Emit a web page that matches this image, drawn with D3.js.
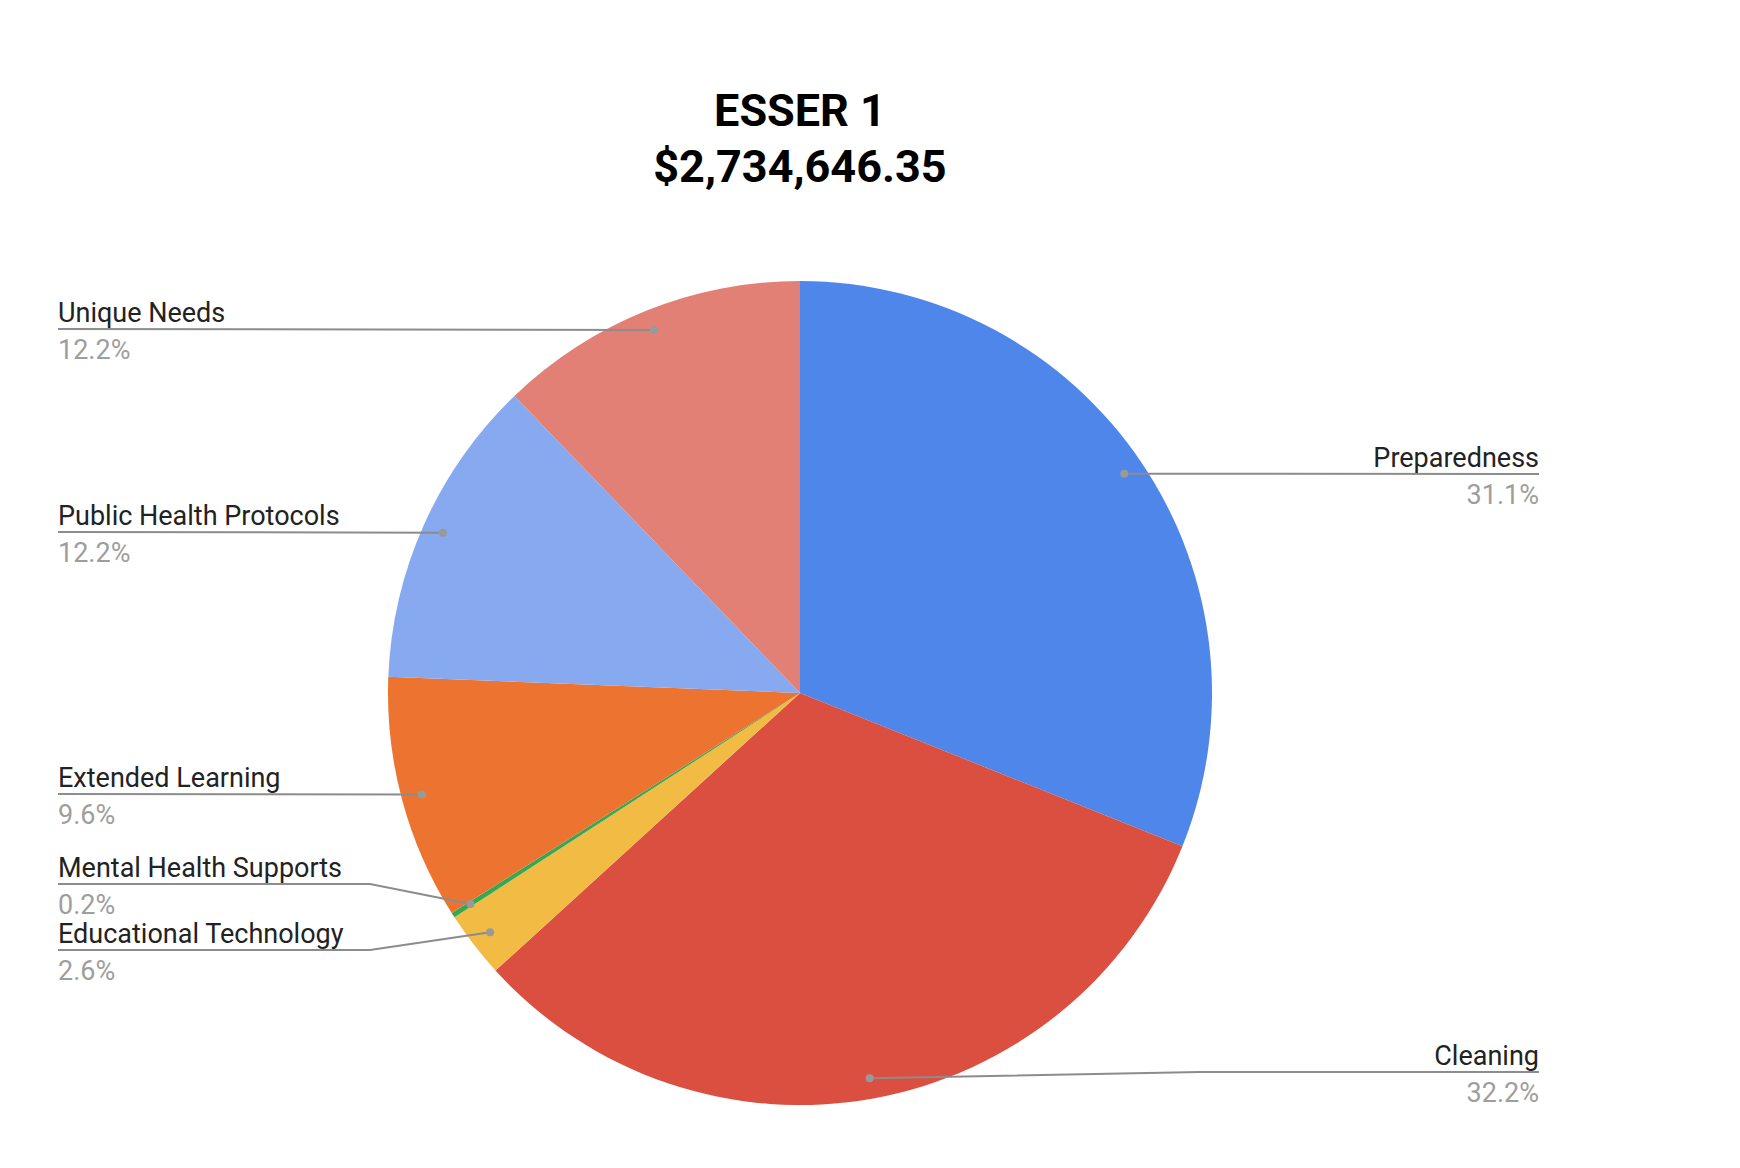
<!DOCTYPE html>
<html><head><meta charset="utf-8">
<script src="https://cdn.jsdelivr.net/npm/d3@7"></script>
<style>body{margin:0;background:#fff}text{font-family:Roboto,Arial,sans-serif}</style>
</head><body><svg id="c" width="1740" height="1168"></svg>
<script>
const categories = ["Preparedness","Cleaning","Educational Technology","Mental Health Supports","Extended Learning","Public Health Protocols","Unique Needs"];
const values = [31.1, 32.2, 2.6, 0.2, 9.6, 12.2, 12.2];
const colors = ["#4f86ea","#db4f40","#f2bb44","#34a853","#ed7430","#86a9f0","#e28076"];
// label layout: side and underline y
const labelSide = ["right","right","left","left","left","left","left"];
const labelY = [474, 1072, 950, 884, 794, 532, 329];

const svg = d3.select("#c");
const cx = 800, cy = 693, r = 412;

svg.append("text").attr("x", 800).attr("y", 126).attr("text-anchor","middle")
  .attr("font-size", 45).attr("font-weight","bold").attr("font-family","Arial, Liberation Sans, sans-serif").text("ESSER 1");
svg.append("text").attr("x", 800).attr("y", 182).attr("text-anchor","middle")
  .attr("font-size", 45).attr("font-weight","bold").attr("font-family","Arial, Liberation Sans, sans-serif").text("$2,734,646.35");

const pie = d3.pie().sort(null).value(d => d)(values);
const arc = d3.arc().innerRadius(0).outerRadius(r);
const g = svg.append("g").attr("transform", `translate(${cx},${cy})`);
g.selectAll("path").data(pie).enter().append("path")
  .attr("d", arc).attr("fill", (d, i) => colors[i]);

const lab = svg.append("g");
pie.forEach((d, i) => {
  const a = (d.startAngle + d.endAngle) / 2;
  const px = cx + Math.sin(a) * r * 0.95, py = cy - Math.cos(a) * r * 0.95;
  const y = labelY[i];
  let pts;
  if (labelSide[i] === "right") {
    pts = Math.abs(py - y) < 3 ? [[px, py], [1539, y]] : [[px, py], [1200, y], [1539, y]];
  } else {
    pts = Math.abs(py - y) < 3 ? [[58, y], [px, py]] : [[58, y], [370, y], [px, py]];
  }
  lab.append("path").attr("d", d3.line()(pts)).attr("fill","none")
    .attr("stroke","#8c8c8c").attr("stroke-width", 2);
  lab.append("circle").attr("cx", px).attr("cy", py).attr("r", 4).attr("fill","#999");
  const right = labelSide[i] === "right";
  const tx = right ? 1539 : 58, anchor = right ? "end" : "start";
  lab.append("text").attr("x", tx).attr("y", y - 7).attr("text-anchor", anchor)
    .attr("font-size", 27).attr("fill","#222").text(categories[i]);
  lab.append("text").attr("x", tx).attr("y", y + 30).attr("text-anchor", anchor)
    .attr("font-size", 27).attr("fill","#9e9e9e").text(values[i].toFixed(1) + "%");
});
</script></body></html>
